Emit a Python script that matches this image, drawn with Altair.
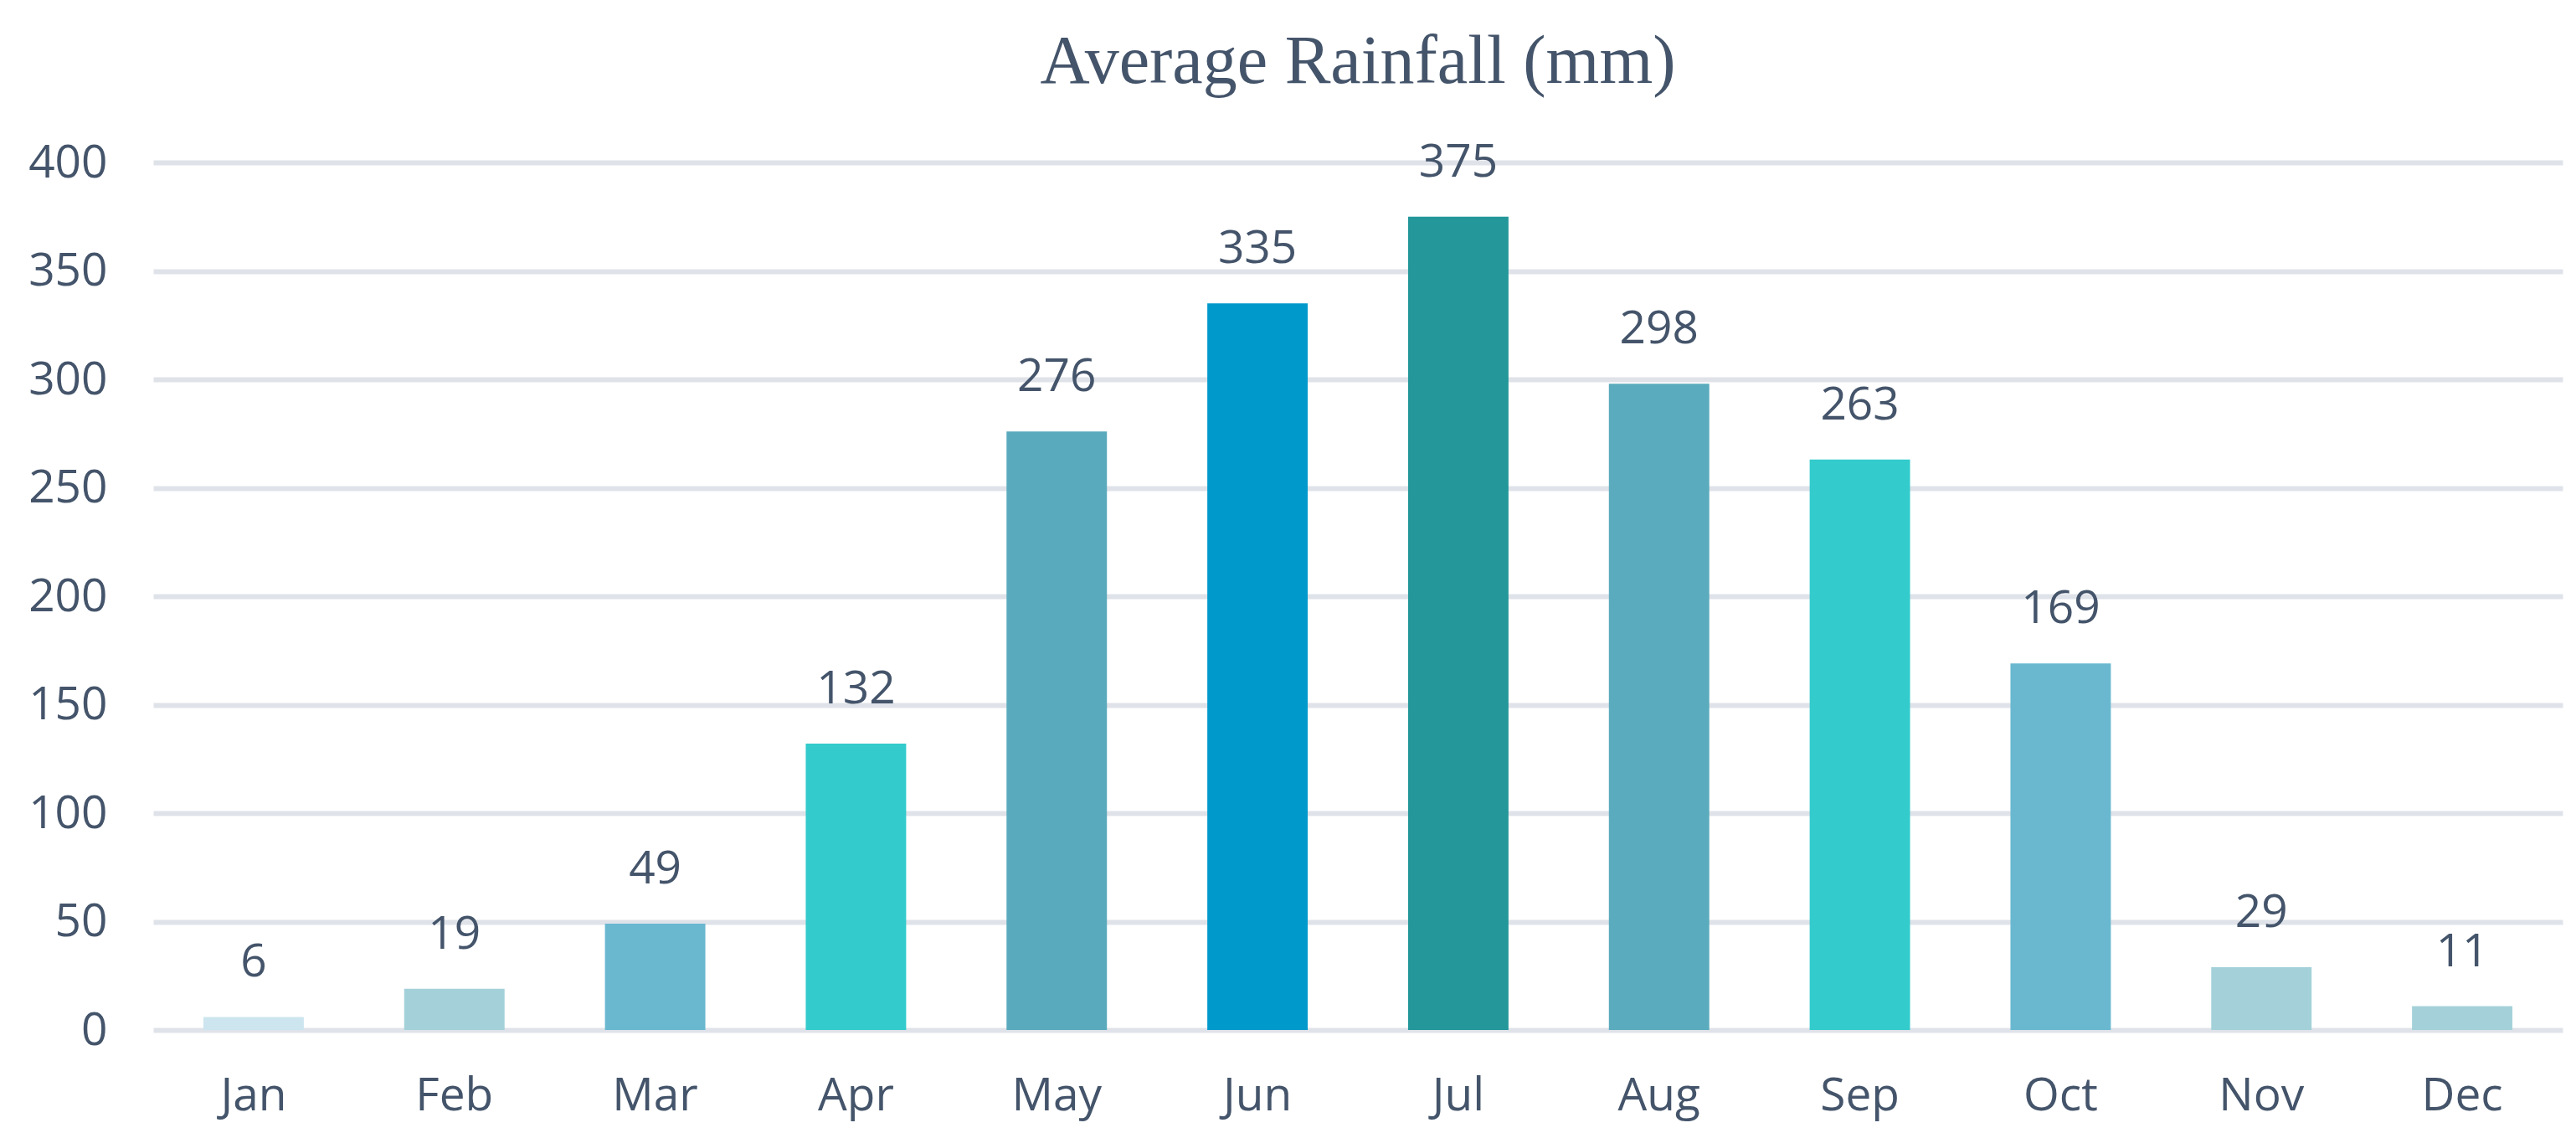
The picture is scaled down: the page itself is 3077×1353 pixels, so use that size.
import altair as alt
import pandas as pd

months = ["Jan", "Feb", "Mar", "Apr", "May", "Jun", "Jul", "Aug", "Sep", "Oct", "Nov", "Dec"]
rainfall = [6, 19, 49, 132, 276, 335, 375, 298, 263, 169, 29, 11]
colors = ["#CCE5EE", "#A4D1D9", "#69B8D0", "#33CBCC", "#5AAABD", "#0099CB",
          "#23979A", "#5AABBD", "#33CBCC", "#69B8D0", "#A4D1D9", "#A4D1D9"]
y_ticks = [0, 50, 100, 150, 200, 250, 300, 350, 400]

df = pd.DataFrame({"month": months, "rain": rainfall})

TEXT = "#44546A"
FONT = "Open Sans"

x = alt.X("month:N", sort=months, title=None,
          scale=alt.Scale(paddingInner=0.5, paddingOuter=0.25),
          axis=alt.Axis(labelAngle=0, labelFont=FONT, labelFontSize=55, labelColor=TEXT,
                        labelPadding=52, ticks=False, tickSize=0, domain=False, grid=False))
y = alt.Y("rain:Q", title=None,
          scale=alt.Scale(domain=[0, 400], nice=False, zero=True),
          axis=alt.Axis(values=y_ticks, labelFont=FONT, labelFontSize=55, labelColor=TEXT,
                        labelPadding=55, ticks=False, tickSize=0, domain=False,
                        grid=True, gridColor="#DFE3E9", gridWidth=6))

bars = alt.Chart(df).mark_bar().encode(
    x=x, y=y,
    color=alt.Color("month:N", sort=months,
                    scale=alt.Scale(domain=months, range=colors), legend=None),
)

labels = alt.Chart(df).mark_text(
    baseline="alphabetic", align="center", dy=-48,
    font=FONT, fontSize=55, color=TEXT,
).encode(x=alt.X("month:N", sort=months), y="rain:Q", text="rain:Q")

chart = alt.layer(bars, labels).properties(
    width=2878, height=1036,
    background="white",
    title=alt.Title("Average Rainfall (mm)", font="Liberation Serif", fontSize=82,
                    fontWeight="normal", color=TEXT, anchor="middle",
                    baseline="alphabetic", offset=60, dy=74),
    autosize=alt.AutoSizeParams(type="none"),
    padding={"left": 175, "top": 186, "right": 8, "bottom": 114},
).configure_view(stroke=None)

chart.save("out.html", embed_options={"renderer": "svg", "actions": False})
